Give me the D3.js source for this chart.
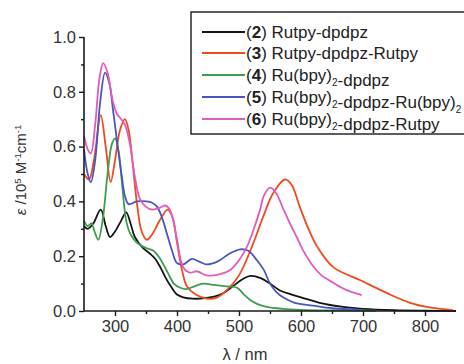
<!DOCTYPE html>
<html>
<head>
<meta charset="utf-8">
<script src="https://cdn.jsdelivr.net/npm/d3@7/dist/d3.min.js"></script>
<style>
  body { margin: 0; background: #fff; }
  svg { font-family: "Liberation Sans", Arial, sans-serif; }
</style>
</head>
<body>
<div id="chart"></div>
<script>
// absorption spectra, epsilon in 10^5 M-1 cm-1
var wl2 = [250, 256, 265, 277, 285, 292, 300, 310, 318, 325, 332, 345, 356, 365, 373, 382, 390, 400, 410, 425, 445, 470, 490, 505, 518, 535, 550, 566, 585, 600, 630, 668, 700, 750, 800, 850];
var eps2 = [0.31, 0.30, 0.32, 0.37, 0.31, 0.27, 0.29, 0.33, 0.36, 0.32, 0.27, 0.23, 0.21, 0.19, 0.16, 0.12, 0.09, 0.06, 0.05, 0.045, 0.047, 0.06, 0.09, 0.115, 0.128, 0.12, 0.10, 0.075, 0.06, 0.05, 0.03, 0.015, 0.008, 0.003, 0.001, 0];

var wl3 = [250, 258, 266, 277, 285, 293, 300, 308, 316, 322, 328, 335, 343, 351, 360, 372, 385, 393, 400, 408, 416, 430, 448, 465, 482, 500, 520, 540, 555, 574, 585, 598, 612, 626, 652, 695, 739, 776, 810, 845];
var eps3 = [0.50, 0.48, 0.55, 0.715, 0.60, 0.47, 0.55, 0.66, 0.70, 0.66, 0.55, 0.40, 0.29, 0.26, 0.28, 0.33, 0.37, 0.34, 0.25, 0.15, 0.09, 0.06, 0.045, 0.05, 0.08, 0.13, 0.23, 0.35, 0.43, 0.48, 0.46, 0.38, 0.30, 0.235, 0.16, 0.113, 0.065, 0.03, 0.012, 0.003];

var wl4 = [250, 256, 262, 267, 273, 280, 288, 295, 300, 306, 312, 318, 325, 335, 350, 362, 373, 385, 395, 405, 415, 428, 442, 460, 480, 497, 508, 518, 530, 545, 570, 600, 650, 720];
var eps4 = [0.33, 0.31, 0.32, 0.29, 0.26, 0.33, 0.50, 0.61, 0.63, 0.58, 0.45, 0.33, 0.28, 0.25, 0.23, 0.22, 0.19, 0.14, 0.10, 0.085, 0.08, 0.09, 0.10, 0.095, 0.09, 0.085, 0.06, 0.04, 0.025, 0.015, 0.008, 0.004, 0.002, 0.001];

var wl5 = [250, 256, 261, 268, 276, 284, 291, 297, 305, 311, 316, 322, 335, 351, 360, 368, 376, 384, 392, 400, 410, 424, 436, 448, 465, 485, 502, 515, 529, 540, 550, 560, 571, 590, 619, 650, 700];
var eps5 = [0.59, 0.50, 0.47, 0.55, 0.76, 0.87, 0.83, 0.73, 0.59, 0.49, 0.42, 0.39, 0.40, 0.40, 0.395, 0.38, 0.34, 0.28, 0.22, 0.175, 0.17, 0.19, 0.18, 0.17, 0.18, 0.21, 0.225, 0.22, 0.185, 0.15, 0.10, 0.07, 0.05, 0.03, 0.02, 0.01, 0.004];

var wl6 = [250, 256, 261, 268, 275, 281, 288, 296, 303, 310, 316, 324, 332, 340, 350, 360, 370, 381, 387, 393, 400, 410, 421, 432, 448, 470, 486, 500, 513, 524, 534, 540, 550, 560, 570, 580, 593, 605, 619, 633, 647, 670, 698];
var eps6 = [0.64, 0.59, 0.575, 0.68, 0.85, 0.905, 0.87, 0.77, 0.72, 0.70, 0.68, 0.61, 0.49, 0.41, 0.38, 0.37, 0.375, 0.385, 0.375, 0.34, 0.26, 0.16, 0.14, 0.145, 0.13, 0.135, 0.15, 0.185, 0.235, 0.30, 0.37, 0.42, 0.45, 0.43, 0.38, 0.33, 0.27, 0.215, 0.165, 0.13, 0.11, 0.08, 0.058];

var seriesNums = ["2", "3", "4", "5", "6"];
var seriesColors = ["#141414", "#ef4a1e", "#3f9d50", "#4a55c2", "#e05bbd"];
var xTicks = [300, 400, 500, 600, 700, 800];
var yTicks = [0.0, 0.2, 0.4, 0.6, 0.8, 1.0];

var width = 464, height = 364;

var svg = d3.select("#chart").append("svg")
    .attr("width", width)
    .attr("height", height);

var x = d3.scaleLinear().domain([250, 850]).range([84, 456]);
var y = d3.scaleLinear().domain([0, 1]).range([311, 37]);

var allWl = [wl2, wl3, wl4, wl5, wl6];
var allEps = [eps2, eps3, eps4, eps5, eps6];

var line = d3.line()
    .x(function (d) { return x(d[0]); })
    .y(function (d) { return y(d[1]); })
    .curve(d3.curveCatmullRom.alpha(0.5));

allWl.forEach(function (wl, i) {
    var pts = wl.map(function (w, j) { return [w, allEps[i][j]]; });
    svg.append("path")
        .datum(pts)
        .attr("fill", "none")
        .attr("stroke", seriesColors[i])
        .attr("stroke-width", 1.8)
        .attr("stroke-linejoin", "round")
        .attr("d", line);
});

// axes
var xAxis = svg.append("g")
    .attr("transform", "translate(0,311)")
    .call(d3.axisBottom(x).tickValues(xTicks).tickSize(5).tickPadding(4).tickFormat(d3.format("d")));
svg.append("g")
    .attr("transform", "translate(0,311)")
    .call(d3.axisBottom(x).tickValues([350, 450, 550, 650, 750]).tickSize(3).tickFormat(""))
    .select(".domain").remove();

var yAxis = svg.append("g")
    .attr("transform", "translate(84,0)")
    .call(d3.axisLeft(y).tickValues(yTicks).tickSize(5).tickPadding(3).tickFormat(d3.format(".1f")));
svg.append("g")
    .attr("transform", "translate(84,0)")
    .call(d3.axisLeft(y).tickValues([0.1, 0.3, 0.5, 0.7, 0.9]).tickSize(3).tickFormat(""))
    .select(".domain").remove();

svg.selectAll(".domain").attr("stroke", "#1a1a1a").attr("stroke-width", 1.6);
svg.selectAll(".tick line").attr("stroke", "#1a1a1a").attr("stroke-width", 1.4);
svg.selectAll(".tick text")
    .attr("fill", "#333")
    .style("font-size", "16.5px")
    .style("font-family", "Liberation Sans, Arial, sans-serif");
xAxis.select(".domain").attr("d", "M84,0H456");
yAxis.select(".domain").attr("d", "M0,311V37");

// axis labels
var yLab = svg.append("text")
    .attr("transform", "translate(26,170) rotate(-90)")
    .attr("text-anchor", "middle")
    .attr("fill", "#333")
    .style("font-size", "15px");
yLab.append("tspan").style("font-style", "italic").text("ε");
yLab.append("tspan").text(" /10");
yLab.append("tspan").attr("dy", -5).style("font-size", "9.5px").text("5");
yLab.append("tspan").attr("dy", 5).text(" M");
yLab.append("tspan").attr("dy", -5).style("font-size", "9.5px").text("-1");
yLab.append("tspan").attr("dy", 5).text("cm");
yLab.append("tspan").attr("dy", -5).style("font-size", "9.5px").text("-1");

svg.append("text")
    .attr("x", 245)
    .attr("y", 360)
    .attr("text-anchor", "middle")
    .attr("fill", "#333")
    .style("font-size", "16.5px")
    .text("λ / nm");

// legend
var legend = svg.append("g");
legend.append("rect")
    .attr("x", 191).attr("y", 12)
    .attr("width", 290).attr("height", 122)
    .attr("fill", "#fff")
    .attr("stroke", "#1a1a1a")
    .attr("stroke-width", 1.4);

var legendRows = [
    [["Rutpy-dpdpz", 0]],
    [["Rutpy-dpdpz-Rutpy", 0]],
    [["Ru(bpy)", 0], ["2", 1], ["-dpdpz", 0]],
    [["Ru(bpy)", 0], ["2", 1], ["-dpdpz-Ru(bpy)", 0], ["2", 1]],
    [["Ru(bpy)", 0], ["2", 1], ["-dpdpz-Rutpy", 0]]
];
var rowY = [32, 53, 75, 97, 119];

seriesNums.forEach(function (n, i) {
    legend.append("line")
        .attr("x1", 202).attr("x2", 245)
        .attr("y1", rowY[i]).attr("y2", rowY[i])
        .attr("stroke", seriesColors[i])
        .attr("stroke-width", 1.8);
    var t = legend.append("text")
        .attr("x", 246)
        .attr("y", rowY[i] + 6)
        .attr("fill", "#222")
        .style("font-size", "17px");
    t.append("tspan").text("(");
    t.append("tspan").style("font-weight", "bold").text(n);
    t.append("tspan").text(") ");
    legendRows[i].forEach(function (part) {
        if (part[1]) {
            t.append("tspan").attr("dy", 5).style("font-size", "10px").text(part[0]);
            t.append("tspan").attr("dy", -5).text("");
        } else {
            t.append("tspan").text(part[0]);
        }
    });
});
</script>
</body>
</html>
